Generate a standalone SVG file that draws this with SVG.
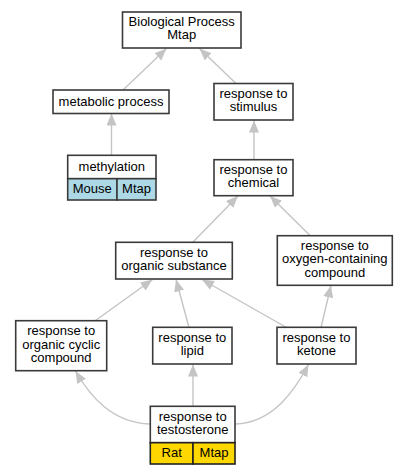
<svg xmlns="http://www.w3.org/2000/svg" width="408" height="475" viewBox="0 0 408 475">
<style>
.n{fill:#fff;stroke:#3a3a3a;stroke-width:1.6}
.b{fill:#add8e6;stroke:#3a3a3a;stroke-width:1.6}
.g{fill:#ffd700;stroke:#222;stroke-width:1.6}
text{font-family:"Liberation Sans",Arial,sans-serif;font-size:13px;fill:#000;text-anchor:middle}
.e{fill:none;stroke:#c4c4c4;stroke-width:1.4;marker-end:url(#a)}
</style>
<defs>
<marker id="a" markerUnits="userSpaceOnUse" markerWidth="13" markerHeight="11" refX="12" refY="5" orient="auto">
<path d="M0,0 L12,5 L0,10 z" fill="#c4c4c4"/>
</marker>
</defs>
<rect width="408" height="475" fill="#fff"/>
<g id="edges">
<path class="e" d="M123,90 L166.5,48.5"/>
<path class="e" d="M236,83.5 L199.5,48.5"/>
<path class="e" d="M111.5,155.5 L111.5,113.5"/>
<path class="e" d="M254,159.5 L254,120.5"/>
<path class="e" d="M192.5,242.5 L238,196"/>
<path class="e" d="M310,235.5 L270,196"/>
<path class="e" d="M95.5,320.5 L152.5,279.5"/>
<path class="e" d="M189,327.5 L176,279.5"/>
<path class="e" d="M286.5,327.5 L202,279.5"/>
<path class="e" d="M321,327.5 L331,285.5"/>
<path class="e" d="M193,406.5 L193,364.5"/>
<path class="e" d="M150,424 C112,423 90,396 75.5,371"/>
<path class="e" d="M235,424 C273,423 295,390 308.5,364.5"/>
</g>
<g id="bp"><rect class="n" x="122.5" y="12" width="118.5" height="36"/><text x="181.7" y="26">Biological Process</text><text x="181.7" y="39">Mtap</text></g>
<g id="metabolic"><rect class="n" x="53" y="90" width="116" height="23.5"/><text x="111" y="106">metabolic process</text></g>
<g id="stimulus"><rect class="n" x="214" y="83.5" width="79" height="36.5"/><text x="253.5" y="98">response to</text><text x="253.5" y="111">stimulus</text></g>
<g id="methylation"><rect class="n" x="67.7" y="155.3" width="88.3" height="23.4"/><text x="111.8" y="170.5">methylation</text><rect class="b" x="67.7" y="178.7" width="49.3" height="21.3"/><rect class="b" x="117" y="178.7" width="39" height="21.3"/><text x="92.3" y="192.5">Mouse</text><text x="136.5" y="192.5">Mtap</text></g>
<g id="chemical"><rect class="n" x="214" y="159.7" width="79" height="36"/><text x="253.5" y="174">response to</text><text x="253.5" y="187">chemical</text></g>
<g id="organic"><rect class="n" x="115.7" y="242.3" width="116.6" height="36.7"/><text x="174" y="257">response to</text><text x="174" y="270">organic substance</text></g>
<g id="oxygen"><rect class="n" x="277.3" y="235.7" width="115" height="49.6"/><text x="334.8" y="250">response to</text><text x="334.8" y="263.3">oxygen-containing</text><text x="334.8" y="276.6">compound</text></g>
<g id="cyclic"><rect class="n" x="15.7" y="320.7" width="91" height="50"/><text x="61.2" y="335">response to</text><text x="61.2" y="348.5">organic cyclic</text><text x="61.2" y="362">compound</text></g>
<g id="lipid"><rect class="n" x="152.7" y="327.3" width="79.3" height="36.7"/><text x="192.3" y="342">response to</text><text x="192.3" y="355.3">lipid</text></g>
<g id="ketone"><rect class="n" x="277" y="327.3" width="79" height="36.7"/><text x="316.5" y="342">response to</text><text x="316.5" y="355.3">ketone</text></g>
<g id="testosterone"><rect class="n" x="150.3" y="406.3" width="84.7" height="36.4"/><text x="192.7" y="421">response to</text><text x="192.7" y="434">testosterone</text><rect class="g" x="150.3" y="442.7" width="42.7" height="21.3"/><rect class="g" x="193" y="442.7" width="42" height="21.3"/><text x="171.7" y="456.5">Rat</text><text x="214" y="456.5">Mtap</text></g>
</svg>
